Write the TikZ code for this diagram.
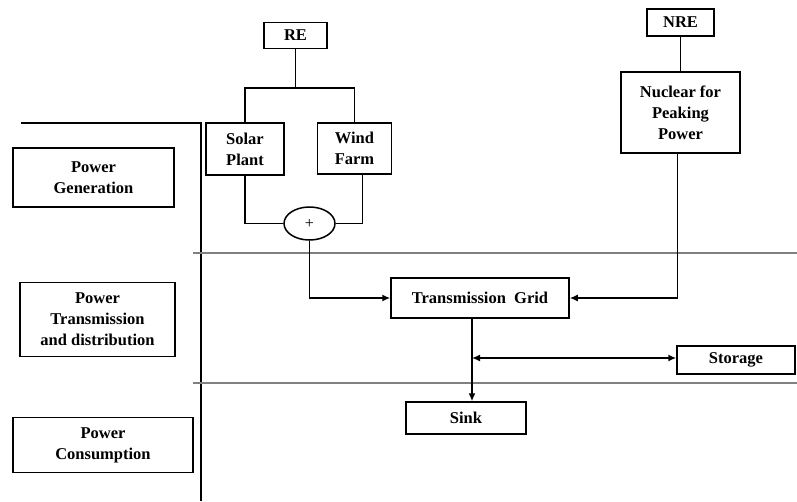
\documentclass[tikz,border=0pt]{standalone}
\usepackage{fontspec}
\setmainfont{Liberation Serif}
\usetikzlibrary{arrows.meta,shapes.geometric}
\begin{document}
\begin{tikzpicture}[x=1pt,y=-1pt,
  box/.style={draw,line width=1.5pt,inner sep=0pt,align=center,
    font=\fontsize{16.5}{21}\selectfont\bfseries},
  wire/.style={line width=1.5pt},
  arr/.style={wire,-{Latex[length=8pt,width=7pt]}},
  arrtwo/.style={wire,{Latex[length=8pt,width=7pt]}-{Latex[length=8pt,width=7pt]}},
  band/.style={gray,line width=1.1pt}]
\useasboundingbox (0,0) rectangle (797,501);
% left frame and separators
\draw[wire] (21,123) -- (201,123) -- (201,501);
\draw[band] (193,253) -- (797,253);
\draw[band] (193,383) -- (797,383);
% left labels
\node[box,minimum width=161,minimum height=59] (gen) at (93.5,177.5) {Power\\Generation};
\node[box,minimum width=155,minimum height=74] (trans) at (97.5,319.5) {Power\\Transmission\\and distribution};
\node[box,minimum width=180,minimum height=55] (cons) at (103,445) {Power\\Consumption};
% sources
\node[box,minimum width=63,minimum height=26] (RE) at (295.5,35.5) {RE};
\node[box,minimum width=78,minimum height=52] (solar) at (245,149) {Solar\\Plant};
\node[box,minimum width=74,minimum height=51] (wind) at (354.5,148.5) {Wind\\Farm};
\node[draw,line width=1.5pt,ellipse,minimum width=51,minimum height=33,inner sep=0pt,
  font=\fontsize{16}{18}\selectfont] (sum) at (309.5,223.5) {+};
\node[box,minimum width=67,minimum height=27] (NRE) at (680.5,22.5) {NRE};
\node[box,minimum width=119,minimum height=81] (nuc) at (680.5,112.5) {Nuclear for\\Peaking\\Power};
\node[box,minimum width=178,minimum height=40] (grid) at (480,298) {Transmission\ \ Grid};
\node[box,minimum width=118,minimum height=28] (stor) at (736,360) {Storage};
\node[box,minimum width=120,minimum height=32] (sink) at (466,418) {Sink};
% connectors
\coordinate (j) at (297,88);
\draw[wire] (RE.south) -- (RE.south |- j);
\draw[wire] (solar.north) -- (solar.north |- j) -- (wind.north |- j) -- (wind.north);
\draw[wire] (solar.south) |- (sum.west);
\draw[wire] ([xshift=8pt]wind.south) |- (sum.east);
\draw[arr] (sum.south) |- (grid.west);
\draw[wire] (NRE.south) -- (nuc.north);
\draw[arr] ([xshift=-3pt]nuc.south) |- (grid.east);
\coordinate (g) at ([xshift=-8pt]grid.south);
\draw[arr] (g) -- (g |- sink.north);
\coordinate (s) at (472,358);
\draw[arrtwo] (s) -- (s -| stor.west);
\end{tikzpicture}
\end{document}
